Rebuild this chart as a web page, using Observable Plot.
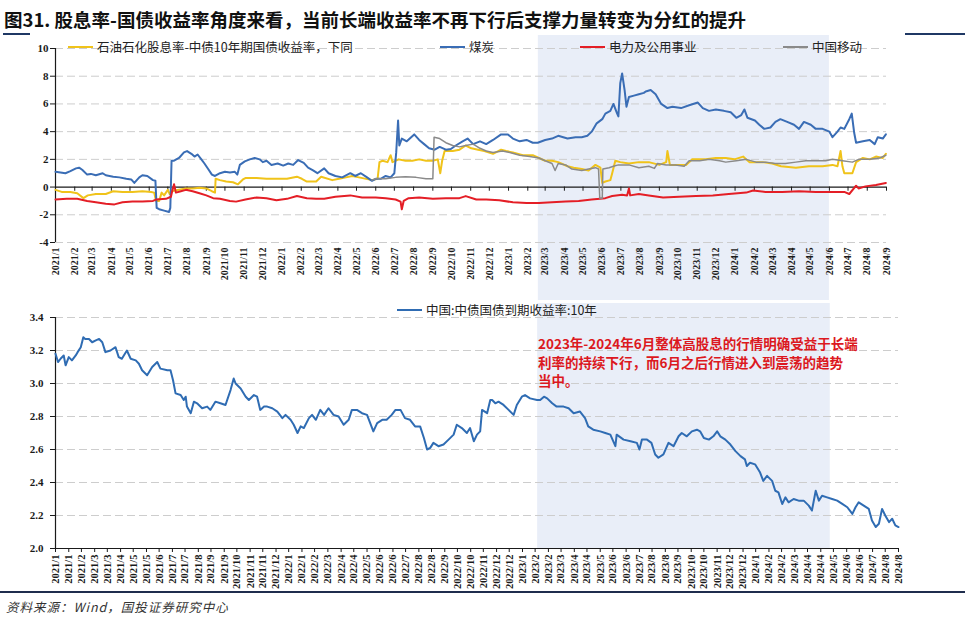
<!DOCTYPE html>
<html><head><meta charset="utf-8">
<script src="https://cdn.jsdelivr.net/npm/d3@7"></script>
<script src="https://cdn.jsdelivr.net/npm/@observablehq/plot@0.6"></script>
<style>
body{margin:0;background:#fff;}
#root{position:relative;width:971px;height:617px;overflow:hidden;background:#fff;font-family:"Noto Sans CJK SC",sans-serif;}
.abs{position:absolute;white-space:nowrap;}
.lg{position:absolute;display:flex;align-items:center;font-size:12.5px;color:#222;line-height:14px;white-space:nowrap;}
.lg i{display:inline-block;width:25px;margin-right:4px;}
svg{overflow:visible;}
</style></head>
<body><div id="root">
<div class="abs" style="left:4px;top:6px;font-size:18.5px;font-weight:700;color:#111;">图31. 股息率-国债收益率角度来看，当前长端收益率不再下行后支撑力量转变为分红的提升</div>
<div class="abs" style="left:3px;top:33px;width:27px;height:1.5px;background:#1f3864"></div>
<div class="abs" style="left:905px;top:33px;width:60px;height:1.5px;background:#1f3864"></div>
<div id="top" class="abs" style="left:0;top:35px"></div>
<div id="bottom" class="abs" style="left:0;top:300px"></div>
<div class="lg" style="left:68px;top:40px"><i style="height:2px;background:#f0c31a"></i>石油石化股息率-中债10年期国债收益率，下同</div>
<div class="lg" style="left:440px;top:40px"><i style="height:2px;background:#3a6db5"></i>煤炭</div>
<div class="lg" style="left:580px;top:40px"><i style="height:2px;background:#e41e26"></i>电力及公用事业</div>
<div class="lg" style="left:783px;top:40px"><i style="height:1.5px;background:#8a8a8a"></i>中国移动</div>
<div class="lg" style="left:397px;top:303px"><i style="height:2px;background:#2f6cb3"></i>中国:中债国债到期收益率:10年</div>
<div class="abs" style="left:538px;top:334px;font-size:13.5px;font-weight:700;line-height:18.5px;color:#dc1820;">2023年-2024年6月整体高股息的行情明确受益于长端<br>利率的持续下行，而6月之后行情进入到震荡的趋势<br>当中。</div>
<div class="abs" style="left:0;top:591px;width:965px;height:1.5px;background:#1f2d4d"></div>
<div class="abs" style="left:6px;top:597px;font-size:12.5px;font-style:italic;letter-spacing:1px;color:#333;">资料来源：Wind，国投证券研究中心</div>
</div>
<script>
// 石油石化股息率-中债10年期国债收益率
const oilSpread = [["2021-01-01",-0.2],["2021-01-11",-0.35],["2021-01-25",-0.35],["2021-02-05",-0.45],["2021-02-15",-0.8],["2021-02-22",-0.6],["2021-03-07",-0.5],["2021-03-23",-0.5],["2021-04-04",-0.3],["2021-04-19",-0.35],["2021-05-05",-0.35],["2021-05-21",-0.3],["2021-06-04",-0.35],["2021-06-09",-0.4],["2021-06-12",-1.0],["2021-06-17",-1.0],["2021-06-21",-0.4],["2021-06-25",-0.6],["2021-07-01",-0.2],["2021-07-04",-0.5],["2021-07-07",-0.3],["2021-07-19",-0.2],["2021-07-30",-0.1],["2021-08-10",-0.1],["2021-08-21",-0.05],["2021-09-01",-0.1],["2021-09-10",-0.3],["2021-09-15",-0.4],["2021-09-16",0.6],["2021-09-23",0.5],["2021-10-03",0.4],["2021-10-14",0.35],["2021-10-22",0.2],["2021-10-30",0.55],["2021-11-03",0.65],["2021-11-21",0.65],["2021-12-07",0.6],["2021-12-23",0.6],["2022-01-09",0.6],["2022-01-25",0.75],["2022-02-02",0.6],["2022-02-10",0.4],["2022-02-25",0.4],["2022-03-05",0.75],["2022-03-23",0.5],["2022-04-03",0.6],["2022-04-14",0.7],["2022-04-24",0.8],["2022-05-05",0.7],["2022-05-26",0.5],["2022-06-04",0.6],["2022-06-07",1.8],["2022-06-12",1.9],["2022-06-20",1.8],["2022-06-25",2.3],["2022-06-28",1.8],["2022-07-08",2.0],["2022-07-19",1.9],["2022-07-30",1.9],["2022-08-10",2.0],["2022-08-21",1.9],["2022-09-01",1.9],["2022-09-09",2.0],["2022-09-13",1.0],["2022-09-16",1.9],["2022-09-20",2.6],["2022-10-03",2.6],["2022-10-14",2.7],["2022-10-24",3.0],["2022-11-02",2.8],["2022-11-13",2.7],["2022-11-23",2.6],["2022-12-07",2.4],["2022-12-20",2.7],["2022-12-28",2.6],["2023-01-08",2.5],["2023-01-24",2.3],["2023-02-09",2.3],["2023-02-19",2.1],["2023-03-01",1.9],["2023-03-12",1.9],["2023-03-22",1.8],["2023-04-06",1.5],["2023-04-16",1.4],["2023-04-29",1.3],["2023-05-10",1.2],["2023-05-21",1.6],["2023-05-29",1.4],["2023-06-01",0.3],["2023-06-06",0.4],["2023-06-14",0.5],["2023-06-17",1.0],["2023-06-22",1.9],["2023-06-30",1.8],["2023-07-14",1.7],["2023-07-30",1.8],["2023-08-15",1.8],["2023-09-01",1.6],["2023-09-12",1.8],["2023-09-14",2.6],["2023-09-18",1.6],["2023-09-27",1.6],["2023-10-14",1.6],["2023-10-24",2.0],["2023-11-15",2.0],["2023-12-01",2.1],["2023-12-17",2.1],["2023-12-31",2.0],["2024-01-14",2.2],["2024-01-24",1.8],["2024-02-14",1.8],["2024-03-01",1.7],["2024-03-15",1.5],["2024-04-08",1.4],["2024-04-29",1.5],["2024-05-21",1.5],["2024-06-06",1.6],["2024-06-14",1.5],["2024-06-19",2.6],["2024-06-22",1.5],["2024-06-25",1.0],["2024-07-08",1.0],["2024-07-14",1.8],["2024-07-25",2.1],["2024-08-05",2.0],["2024-08-15",2.2],["2024-08-26",2.1],["2024-08-31",2.4]];
// 煤炭
const coalSpread = [["2021-01-01",1.1],["2021-01-09",1.05],["2021-01-17",1.0],["2021-01-25",1.15],["2021-02-03",1.35],["2021-02-08",1.4],["2021-02-13",1.25],["2021-02-21",0.9],["2021-02-27",0.95],["2021-03-07",0.85],["2021-03-18",1.0],["2021-03-23",0.85],["2021-04-04",0.75],["2021-04-14",0.7],["2021-04-25",0.6],["2021-05-03",0.55],["2021-05-08",0.3],["2021-05-16",0.7],["2021-05-21",0.85],["2021-05-29",0.8],["2021-06-07",0.5],["2021-06-11",0.45],["2021-06-13",-1.5],["2021-06-17",-1.6],["2021-06-25",-1.7],["2021-07-03",-1.8],["2021-07-05",-1.5],["2021-07-07",1.9],["2021-07-11",1.9],["2021-07-19",2.1],["2021-07-27",2.5],["2021-08-01",2.6],["2021-08-08",2.4],["2021-08-13",2.2],["2021-08-18",2.35],["2021-08-24",2.0],["2021-08-29",1.7],["2021-09-04",1.3],["2021-09-10",0.9],["2021-09-15",0.8],["2021-09-23",1.0],["2021-10-01",1.1],["2021-10-09",1.05],["2021-10-17",1.1],["2021-10-21",0.9],["2021-10-25",1.6],["2021-11-02",1.85],["2021-11-10",2.0],["2021-11-18",2.1],["2021-11-26",2.0],["2021-12-01",1.8],["2021-12-07",1.9],["2021-12-15",1.6],["2021-12-25",1.7],["2022-01-03",1.55],["2022-01-11",1.7],["2022-01-19",1.6],["2022-01-27",1.95],["2022-02-05",1.75],["2022-02-12",1.4],["2022-02-20",1.2],["2022-02-27",1.0],["2022-03-10",1.35],["2022-03-17",1.0],["2022-03-28",0.8],["2022-04-08",0.7],["2022-04-21",1.0],["2022-04-29",0.8],["2022-05-08",1.0],["2022-05-18",0.7],["2022-05-26",0.45],["2022-06-01",0.6],["2022-06-09",0.6],["2022-06-17",0.8],["2022-06-25",0.7],["2022-07-01",1.0],["2022-07-04",2.5],["2022-07-07",4.8],["2022-07-09",3.0],["2022-07-13",3.5],["2022-07-21",3.3],["2022-08-02",3.8],["2022-08-10",3.4],["2022-08-18",3.1],["2022-08-26",2.8],["2022-09-04",2.7],["2022-09-12",2.9],["2022-09-22",2.7],["2022-09-30",2.75],["2022-10-08",3.0],["2022-10-19",3.3],["2022-10-27",3.5],["2022-11-05",3.1],["2022-11-16",3.3],["2022-11-26",3.1],["2022-12-07",3.4],["2022-12-20",3.8],["2022-12-31",3.8],["2023-01-08",3.5],["2023-01-19",3.3],["2023-01-30",3.4],["2023-02-09",3.2],["2023-02-17",3.2],["2023-03-01",3.4],["2023-03-12",3.5],["2023-03-22",3.7],["2023-04-06",3.5],["2023-04-19",3.6],["2023-04-29",3.6],["2023-05-08",3.7],["2023-05-15",4.0],["2023-05-23",4.6],["2023-06-01",4.9],["2023-06-06",5.3],["2023-06-14",5.5],["2023-06-19",6.0],["2023-06-25",5.3],["2023-06-27",5.1],["2023-06-30",7.5],["2023-07-03",8.2],["2023-07-07",7.0],["2023-07-10",5.8],["2023-07-14",6.5],["2023-07-22",6.6],["2023-07-30",6.7],["2023-08-07",6.8],["2023-08-10",6.9],["2023-08-18",7.0],["2023-08-26",6.7],["2023-09-04",6.0],["2023-09-14",5.7],["2023-09-22",5.8],["2023-10-06",5.7],["2023-10-19",5.9],["2023-11-02",6.1],["2023-11-10",5.7],["2023-11-20",5.5],["2023-12-01",5.6],["2023-12-14",5.5],["2023-12-25",5.4],["2024-01-03",5.0],["2024-01-11",5.2],["2024-01-16",5.6],["2024-01-21",5.0],["2024-02-02",4.8],["2024-02-09",4.5],["2024-02-17",4.2],["2024-02-27",4.3],["2024-03-06",4.7],["2024-03-14",4.9],["2024-03-25",4.7],["2024-04-05",4.5],["2024-04-13",4.2],["2024-04-21",4.7],["2024-05-02",4.5],["2024-05-10",4.2],["2024-05-21",4.2],["2024-06-01",4.0],["2024-06-06",3.6],["2024-06-14",4.0],["2024-06-19",4.3],["2024-06-25",4.2],["2024-07-03",4.9],["2024-07-07",5.3],["2024-07-11",3.9],["2024-07-14",3.2],["2024-07-25",3.3],["2024-08-05",3.4],["2024-08-13",3.1],["2024-08-18",3.6],["2024-08-26",3.5],["2024-08-31",3.8]];
// 电力及公用事业
const powerSpread = [["2021-01-01",-0.9],["2021-01-19",-0.85],["2021-02-05",-0.85],["2021-02-21",-1.0],["2021-03-07",-1.1],["2021-03-23",-1.2],["2021-04-06",-1.25],["2021-04-19",-1.1],["2021-05-05",-1.05],["2021-05-21",-1.05],["2021-06-07",-1.0],["2021-06-12",-0.9],["2021-06-28",-0.85],["2021-07-06",-0.7],["2021-07-08",-0.3],["2021-07-11",0.2],["2021-07-14",-0.4],["2021-07-22",-0.3],["2021-07-30",-0.2],["2021-08-10",-0.3],["2021-08-21",-0.45],["2021-09-01",-0.6],["2021-09-12",-0.8],["2021-09-23",-0.85],["2021-10-09",-1.0],["2021-10-19",-1.05],["2021-11-03",-0.9],["2021-11-21",-0.75],["2021-12-07",-0.8],["2021-12-23",-0.95],["2022-01-09",-0.85],["2022-01-25",-0.65],["2022-02-10",-0.8],["2022-02-25",-0.85],["2022-03-10",-0.85],["2022-03-28",-0.7],["2022-04-21",-0.6],["2022-05-10",-0.75],["2022-06-01",-0.75],["2022-06-17",-0.8],["2022-07-03",-0.9],["2022-07-11",-1.05],["2022-07-13",-1.6],["2022-07-16",-1.0],["2022-07-24",-0.8],["2022-08-10",-0.75],["2022-09-01",-0.85],["2022-09-22",-0.8],["2022-10-14",-0.8],["2022-10-24",-0.65],["2022-11-10",-0.9],["2022-11-26",-0.9],["2022-12-17",-0.95],["2023-01-08",-1.1],["2023-01-30",-1.15],["2023-02-19",-1.15],["2023-03-12",-1.1],["2023-04-03",-1.05],["2023-04-24",-1.0],["2023-05-15",-0.9],["2023-06-06",-0.8],["2023-06-17",-0.65],["2023-07-03",-0.55],["2023-07-11",-0.6],["2023-07-14",-0.1],["2023-07-16",-0.6],["2023-07-30",-0.5],["2023-08-15",-0.6],["2023-09-07",-0.75],["2023-10-03",-0.7],["2023-10-30",-0.65],["2023-11-26",-0.6],["2023-12-22",-0.5],["2024-01-19",-0.4],["2024-01-30",-0.25],["2024-02-19",-0.35],["2024-03-17",-0.35],["2024-04-13",-0.3],["2024-05-10",-0.35],["2024-06-06",-0.35],["2024-06-25",-0.35],["2024-07-03",-0.5],["2024-07-14",0.1],["2024-07-18",-0.1],["2024-07-29",0.05],["2024-08-15",0.15],["2024-08-31",0.3]];
// 中国移动
const mobileSpread = [["2022-05-26",0.5],["2022-06-01",0.6],["2022-06-17",0.6],["2022-07-03",0.7],["2022-07-19",0.75],["2022-08-05",0.7],["2022-08-21",0.6],["2022-09-01",0.6],["2022-09-03",3.6],["2022-09-12",3.5],["2022-09-22",3.2],["2022-10-03",3.0],["2022-10-14",2.9],["2022-10-24",3.0],["2022-11-05",3.1],["2022-11-16",2.8],["2022-11-26",2.6],["2022-12-07",2.5],["2022-12-22",2.6],["2023-01-03",2.5],["2023-01-19",2.3],["2023-02-04",2.2],["2023-02-19",2.1],["2023-03-01",1.9],["2023-03-12",1.7],["2023-03-17",1.2],["2023-03-22",1.7],["2023-04-03",1.6],["2023-04-13",1.3],["2023-04-29",1.2],["2023-05-10",1.3],["2023-05-21",1.4],["2023-05-26",1.3],["2023-05-28",-0.8],["2023-06-01",-0.8],["2023-06-02",1.3],["2023-06-12",1.4],["2023-06-19",1.5],["2023-06-27",1.6],["2023-07-14",1.6],["2023-07-30",1.4],["2023-08-15",1.5],["2023-08-24",1.35],["2023-08-29",1.7],["2023-09-12",1.6],["2023-09-27",1.6],["2023-10-11",1.5],["2023-10-19",1.9],["2023-11-05",1.9],["2023-11-20",2.0],["2023-12-07",1.9],["2023-12-17",1.8],["2024-01-03",1.9],["2024-01-19",2.0],["2024-02-04",1.8],["2024-02-19",1.8],["2024-03-06",1.7],["2024-03-22",1.7],["2024-04-08",1.8],["2024-04-24",1.9],["2024-05-10",1.9],["2024-05-26",1.9],["2024-06-06",2.0],["2024-06-22",1.9],["2024-07-08",1.8],["2024-07-18",2.0],["2024-08-05",2.0],["2024-08-21",2.1],["2024-08-31",2.3]];
// 中国:中债国债到期收益率:10年
const cgb10y = [["2021-01-04",3.18],["2021-01-08",3.13],["2021-01-12",3.15],["2021-01-17",3.17],["2021-01-20",3.11],["2021-01-25",3.16],["2021-01-30",3.14],["2021-02-05",3.17],["2021-02-08",3.19],["2021-02-13",3.22],["2021-02-17",3.28],["2021-02-20",3.27],["2021-02-26",3.27],["2021-03-03",3.25],["2021-03-08",3.26],["2021-03-14",3.27],["2021-03-19",3.25],["2021-03-24",3.19],["2021-04-01",3.20],["2021-04-09",3.22],["2021-04-14",3.16],["2021-04-19",3.15],["2021-04-27",3.20],["2021-05-03",3.15],["2021-05-11",3.14],["2021-05-16",3.12],["2021-05-21",3.08],["2021-05-29",3.05],["2021-06-06",3.10],["2021-06-14",3.13],["2021-06-19",3.09],["2021-06-30",3.08],["2021-07-05",3.08],["2021-07-09",3.02],["2021-07-13",2.94],["2021-07-21",2.93],["2021-07-26",2.90],["2021-07-29",2.92],["2021-07-31",2.86],["2021-08-06",2.82],["2021-08-11",2.89],["2021-08-16",2.88],["2021-08-24",2.85],["2021-09-01",2.86],["2021-09-06",2.84],["2021-09-14",2.89],["2021-09-22",2.88],["2021-09-30",2.87],["2021-10-08",2.96],["2021-10-13",3.03],["2021-10-16",3.00],["2021-10-24",2.97],["2021-11-01",2.92],["2021-11-06",2.90],["2021-11-14",2.93],["2021-11-19",2.92],["2021-11-24",2.84],["2021-11-30",2.86],["2021-12-05",2.86],["2021-12-13",2.85],["2021-12-21",2.83],["2021-12-29",2.79],["2022-01-03",2.81],["2022-01-11",2.78],["2022-01-16",2.75],["2022-01-22",2.70],["2022-01-27",2.74],["2022-02-01",2.73],["2022-02-09",2.79],["2022-02-14",2.81],["2022-02-20",2.78],["2022-02-27",2.84],["2022-03-05",2.81],["2022-03-12",2.85],["2022-03-20",2.81],["2022-03-28",2.80],["2022-04-05",2.75],["2022-04-13",2.78],["2022-04-18",2.84],["2022-04-26",2.84],["2022-05-04",2.82],["2022-05-12",2.81],["2022-05-17",2.76],["2022-05-22",2.71],["2022-05-28",2.76],["2022-06-05",2.78],["2022-06-12",2.78],["2022-06-20",2.81],["2022-06-26",2.84],["2022-07-04",2.84],["2022-07-11",2.79],["2022-07-19",2.78],["2022-07-27",2.74],["2022-08-04",2.74],["2022-08-10",2.67],["2022-08-15",2.60],["2022-08-20",2.61],["2022-08-25",2.64],["2022-09-02",2.62],["2022-09-10",2.63],["2022-09-18",2.66],["2022-09-26",2.69],["2022-10-01",2.75],["2022-10-09",2.73],["2022-10-17",2.70],["2022-10-22",2.73],["2022-10-28",2.65],["2022-11-02",2.69],["2022-11-07",2.71],["2022-11-10",2.84],["2022-11-18",2.82],["2022-11-23",2.90],["2022-11-26",2.90],["2022-12-01",2.88],["2022-12-06",2.89],["2022-12-14",2.87],["2022-12-22",2.84],["2022-12-30",2.81],["2023-01-04",2.87],["2023-01-12",2.92],["2023-01-17",2.93],["2023-01-25",2.91],["2023-02-05",2.90],["2023-02-10",2.90],["2023-02-16",2.92],["2023-02-21",2.91],["2023-03-01",2.88],["2023-03-08",2.86],["2023-03-19",2.86],["2023-03-27",2.85],["2023-04-04",2.82],["2023-04-14",2.83],["2023-04-22",2.79],["2023-04-27",2.74],["2023-05-05",2.72],["2023-05-16",2.71],["2023-05-24",2.70],["2023-06-01",2.69],["2023-06-09",2.62],["2023-06-11",2.69],["2023-06-22",2.66],["2023-07-03",2.65],["2023-07-13",2.64],["2023-07-17",2.60],["2023-07-21",2.66],["2023-07-29",2.66],["2023-08-05",2.64],["2023-08-11",2.57],["2023-08-16",2.55],["2023-08-24",2.57],["2023-09-01",2.64],["2023-09-09",2.62],["2023-09-17",2.68],["2023-09-22",2.70],["2023-09-30",2.68],["2023-10-08",2.71],["2023-10-16",2.72],["2023-10-21",2.71],["2023-10-27",2.67],["2023-11-04",2.66],["2023-11-11",2.68],["2023-11-17",2.71],["2023-11-22",2.68],["2023-11-30",2.66],["2023-12-08",2.63],["2023-12-16",2.59],["2023-12-24",2.56],["2023-12-31",2.54],["2024-01-03",2.50],["2024-01-08",2.52],["2024-01-16",2.51],["2024-01-24",2.46],["2024-01-29",2.41],["2024-02-04",2.44],["2024-02-12",2.41],["2024-02-17",2.35],["2024-02-22",2.34],["2024-02-28",2.27],["2024-03-04",2.31],["2024-03-09",2.28],["2024-03-17",2.30],["2024-03-25",2.29],["2024-04-02",2.29],["2024-04-10",2.26],["2024-04-15",2.23],["2024-04-21",2.35],["2024-04-26",2.29],["2024-05-01",2.32],["2024-05-09",2.31],["2024-05-17",2.30],["2024-05-25",2.29],["2024-06-02",2.27],["2024-06-10",2.25],["2024-06-18",2.21],["2024-06-23",2.25],["2024-06-28",2.28],["2024-07-06",2.26],["2024-07-14",2.24],["2024-07-19",2.17],["2024-07-25",2.13],["2024-07-30",2.15],["2024-08-04",2.24],["2024-08-09",2.20],["2024-08-15",2.16],["2024-08-20",2.18],["2024-08-25",2.14],["2024-08-30",2.13]];

const topYTicks = [-4, -2, 0, 2, 4, 6, 8, 10];
const bottomYTicks = [2.0, 2.2, 2.4, 2.6, 2.8, 3.0, 3.2, 3.4];
const topRange = ["2021-01-01", "2024-09-01"];
const bottomRange = ["2021-01-04", "2024-08-30"];
const topShade = [["2023-02-18", "2024-06-01"]];
const bottomShade = [["2023-02-06", "2024-05-14"]];
const bottomTickCount = 66;

const parse = d3.utcParse("%Y-%m-%d");
const rows = arr => arr.map(([d, v]) => ({date: parse(d), value: v}));
const fmt = d3.utcFormat("%Y/%-m");
const axisColor = "#1a1a1a";
const baseStyle = {fontFamily: "'Liberation Serif', 'Times New Roman', serif", fontWeight: "bold", fontSize: "10px", color: axisColor, background: "transparent", overflow: "visible"};

// top chart
const tStart = parse(topRange[0]), tEnd = parse(topRange[1]);
const monthTicks = d3.utcMonth.range(tStart, d3.utcDay.offset(tEnd, 1));
const topPlot = Plot.plot({
  width: 971, height: 265, marginTop: 13, marginBottom: 58, marginLeft: 55, marginRight: 85,
  x: {type: "utc", domain: [tStart, tEnd], label: null},
  y: {domain: [-4, 10], label: null},
  style: baseStyle,
  marks: [
    Plot.rect(topShade.map(([a, b]) => ({x1: parse(a), x2: parse(b)})), {x1: "x1", x2: "x2", fill: "#e9eef8", insetTop: -13, insetBottom: -58}),
    Plot.ruleY(topYTicks.filter(v => v !== 0), {stroke: "#cdcdcd", strokeDasharray: "8,4"}),
    Plot.ruleY([0], {stroke: axisColor, strokeWidth: 1.2}),
    Plot.ruleX([tStart], {stroke: axisColor, strokeWidth: 1.2}),
    Plot.ruleX(monthTicks, {x: d => d, y1: 0, y2: -0.3, stroke: axisColor}),
    Plot.axisY(topYTicks, {anchor: "left", tickSize: 5, tickPadding: 2, fontSize: 11, tickFormat: d => String(d), label: null}),
    Plot.axisX(monthTicks, {anchor: "bottom", tickRotate: -90, tickSize: 0, tickPadding: 5, tickFormat: fmt, fontSize: 10, label: null}),
    Plot.line(rows(oilSpread), {x: "date", y: "value", stroke: "#f0c31a", strokeWidth: 2}),
    Plot.line(rows(coalSpread), {x: "date", y: "value", stroke: "#3a6db5", strokeWidth: 2}),
    Plot.line(rows(powerSpread), {x: "date", y: "value", stroke: "#e41e26", strokeWidth: 2}),
    Plot.line(rows(mobileSpread), {x: "date", y: "value", stroke: "#8a8a8a", strokeWidth: 1.5})
  ]
});
document.getElementById("top").appendChild(topPlot);

// bottom chart
const bStart = parse(bottomRange[0]), bEnd = parse(bottomRange[1]);
const bottomTicks = d3.range(bottomTickCount).map(i => d3.utcDay.offset(bStart, Math.round(i * (d3.utcDay.count(bStart, bEnd) / (bottomTickCount - 1)))));
const bottomPlot = Plot.plot({
  width: 971, height: 292, marginTop: 17, marginBottom: 44, marginLeft: 55, marginRight: 73,
  x: {type: "utc", domain: [bStart, bEnd], label: null},
  y: {domain: [2.0, 3.4], label: null},
  style: baseStyle,
  marks: [
    Plot.rect(bottomShade.map(([a, b]) => ({x1: parse(a), x2: parse(b)})), {x1: "x1", x2: "x2", fill: "#e9eef8", insetTop: -14}),
    Plot.ruleY(bottomYTicks.filter(v => v > 2.0), {stroke: "#cdcdcd", strokeDasharray: "8,4"}),
    Plot.ruleY([2.0], {stroke: axisColor, strokeWidth: 1.2}),
    Plot.ruleX([bStart], {stroke: axisColor, strokeWidth: 1.2}),
    Plot.axisY(bottomYTicks, {anchor: "left", tickSize: 5, tickPadding: 7, fontSize: 11, tickFormat: d3.format(".1f"), label: null}),
    Plot.axisX(bottomTicks, {anchor: "bottom", tickRotate: -90, tickSize: 4, tickPadding: 2, tickFormat: fmt, fontSize: 10.5, label: null}),
    Plot.line(rows(cgb10y), {x: "date", y: "value", stroke: "#2f6cb3", strokeWidth: 2})
  ]
});
document.getElementById("bottom").appendChild(bottomPlot);
</script>
</body></html>
